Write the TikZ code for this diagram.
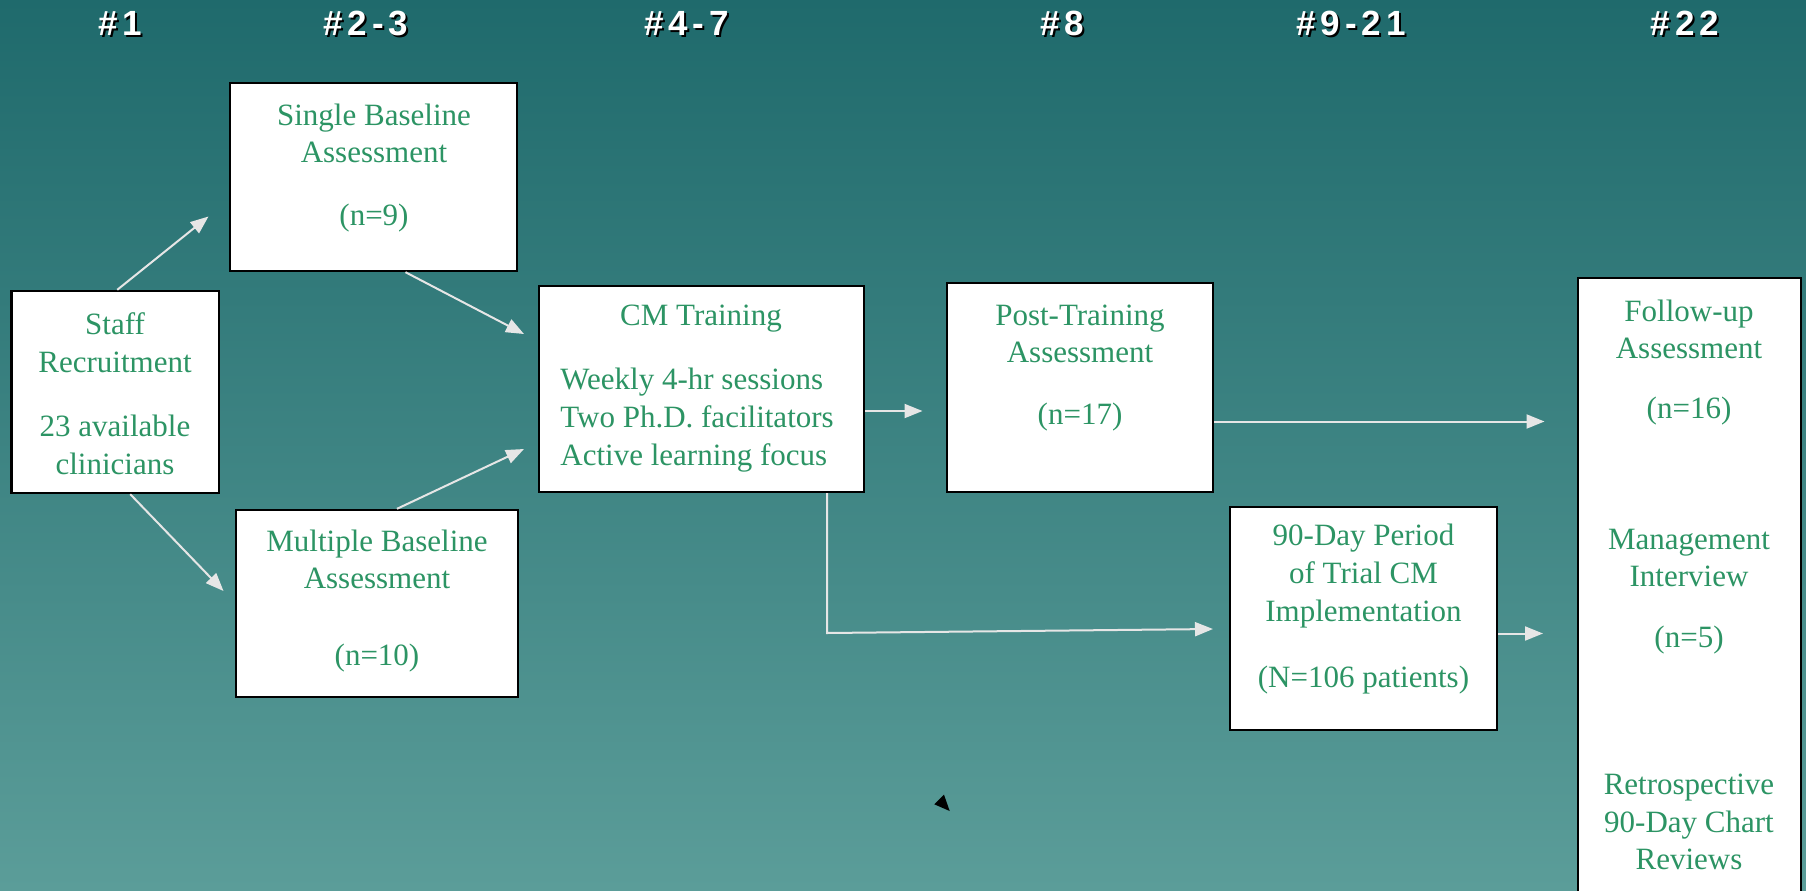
\documentclass[tikz,border=0pt]{standalone}
\usepackage{fontspec}
\setmainfont{Liberation Serif}
\newfontfamily\hdrfont[LetterSpace=14]{Liberation Sans}
\usetikzlibrary{arrows.meta,calc}
\definecolor{bgtop}{RGB}{31,106,108}
\definecolor{bgbot}{RGB}{91,157,153}
\definecolor{txtgreen}{RGB}{44,148,100}
\definecolor{arrowgray}{RGB}{230,230,230}
\begin{document}
\begin{tikzpicture}[x=0.5pt,y=-0.5pt,
  box/.style={draw=black,line width=1.2pt,fill=white,inner sep=0pt},
  lbl/.style={text=txtgreen,font=\fontsize{15.5}{18.8}\selectfont,align=center,inner sep=0pt},
  hdr/.style={text=white,font=\hdrfont\bfseries\fontsize{17.5}{20}\selectfont,inner sep=0pt},
  hdrshadow/.style={hdr,text=black},
  conn/.style={draw=arrowgray,line width=1pt,-{Triangle[length=9pt,width=7pt]}},
]
\useasboundingbox (0,0) rectangle (1806,890);
\clip (0,0) rectangle (1806,890);
\shade[top color=bgtop,bottom color=bgbot] (0,0) rectangle (1806,890);

% headers
\node[hdrshadow] (h1s) at (122,25) {\#1};
\node[hdr] (h1) at (120,23) {\#1};
\node[hdrshadow] (h2s) at (368,25) {\#2-3};
\node[hdr] (h2) at (366,23) {\#2-3};
\node[hdrshadow] (h3s) at (688.5,25) {\#4-7};
\node[hdr] (h3) at (686.5,23) {\#4-7};
\node[hdrshadow] (h4s) at (1064,25) {\#8};
\node[hdr] (h4) at (1062,23) {\#8};
\node[hdrshadow] (h5s) at (1353,25) {\#9-21};
\node[hdr] (h5) at (1351,23) {\#9-21};
\node[hdrshadow] (h6s) at (1687,25) {\#22};
\node[hdr] (h6) at (1685,23) {\#22};

% boxes
\node[box,minimum width=103.75pt,minimum height=101pt] (st) at (115.25,392) {};
\node[box,minimum width=143.5pt,minimum height=94pt] (sb) at (373.5,177) {};
\node[box,minimum width=141pt,minimum height=93.5pt] (mb) at (377,603.5) {};
\node[box,minimum width=162.5pt,minimum height=103pt] (cm) at (701.5,389) {};
\node[box,minimum width=133pt,minimum height=104.5pt] (pt) at (1080,387.5) {};
\node[box,minimum width=133.5pt,minimum height=111.5pt] (nd) at (1363.5,618.5) {};
\node[box,minimum width=111.5pt,minimum height=322pt] (fu) at (1689.5,600) {};

% texts
\node[lbl] (stA) at (115,342.7) {Staff\\Recruitment};
\node[lbl] (stB) at (115,445) {23 available\\clinicians};
\node[lbl] (sbA) at (374,133.5) {Single Baseline\\Assessment};
\node[lbl] (sbB) at (374,217.7) {(n=9)};
\node[lbl] (mbA) at (377,559.5) {Multiple Baseline\\Assessment};
\node[lbl] (mbB) at (377,657.6) {(n=10)};
\node[lbl] (cmA) at (701,319) {CM Training};
\node[lbl,anchor=west,align=left] (cmB) at (560,420) {Weekly 4-hr sessions\\Two Ph.D. facilitators\\Active learning focus};
\node[lbl] (ptA) at (1080,334) {Post-Training\\Assessment};
\node[lbl] (ptB) at (1080,417) {(n=17)};
\node[lbl] (ndA) at (1363.5,576) {90-Day Period\\of Trial CM\\Implementation};
\node[lbl] (ndB) at (1363.5,679.6) {(N=106 patients)};
\node[lbl] (fuA) at (1689,329.5) {Follow-up\\Assessment};
\node[lbl] (fuB) at (1689,411) {(n=16)};
\node[lbl] (fuC) at (1689,558) {Management\\Interview};
\node[lbl] (fuD) at (1689,640) {(n=5)};
\node[lbl] (fuE) at (1689,822) {Retrospective\\90-Day Chart\\Reviews};

% connector free ends
\coordinate (e1) at (208.5,216.5);
\coordinate (e2) at (223.5,591);
\coordinate (e3) at (524,334);
\coordinate (e4) at (524,449);
\coordinate (e5) at (922.5,411);
\coordinate (e6) at (1544.5,421.5);
\coordinate (c7) at (827,633);
\coordinate (e7) at (1213,629);
\coordinate (e8) at (1543,633.5);

\draw[conn] ($(st.north)+(2,0)$) -- (e1);
\draw[conn] ($(st.south)+(15,0)$) -- (e2);
\draw[conn] ($(sb.south)+(32,0)$) -- (e3);
\draw[conn] ($(mb.north)+(20,0)$) -- (e4);
\draw[conn] ($(cm.east)+(0,22)$) -- (e5);
\draw[conn] ($(pt.east)+(0,34)$) -- (e6);
\draw[conn] ($(cm.south)+(125.5,0)$) -- (c7) -- (e7);
\draw[conn] ($(nd.east)+(0,15)$) -- (e8);

% small black pointer
\fill[black] (934.3,804.3) -- (944,794.7) -- (949.7,811) -- cycle;
\end{tikzpicture}
\end{document}
